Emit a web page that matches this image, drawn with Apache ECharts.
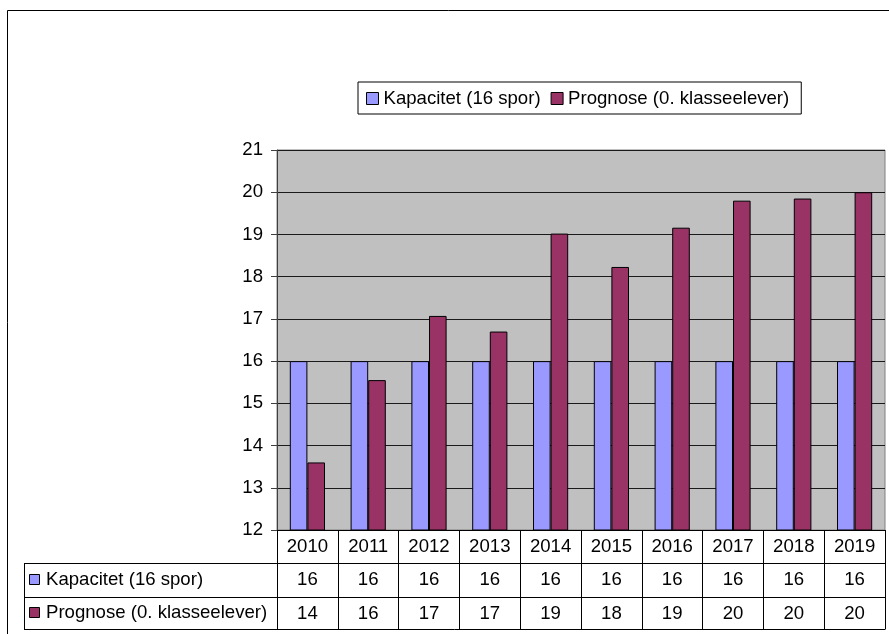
<!DOCTYPE html>
<html>
<head>
<meta charset="utf-8">
<script src="https://cdn.jsdelivr.net/npm/echarts@6/dist/echarts.min.js"></script>
<style>
html,body{margin:0;padding:0;background:#fff;}
#chart{width:889px;height:634px;}
</style>
</head>
<body>
<div id="chart"></div>
<script>
// ---- data ----
var years = ['2010','2011','2012','2013','2014','2015','2016','2017','2018','2019'];
var seriesNames = ['Kapacitet (16 spor)', 'Prognose (0. klasseelever)'];
var kapacitet = [16, 16, 16, 16, 16, 16, 16, 16, 16, 16];
var prognose = [13.6, 15.55, 17.07, 16.7, 19.02, 18.23, 19.16, 19.8, 19.85, 20.0];
var kapacitetTable = ['16','16','16','16','16','16','16','16','16','16'];
var prognoseTable = ['14','16','17','17','19','18','19','20','20','20'];
var yTicks = {min: 12, max: 21, interval: 1};

// ---- layout ----
var FONT = 'Liberation Sans, Arial, sans-serif';
var FS = 18.6;
var gridLeft = 277, gridRight = 885, gridTop = 150, gridBottom = 530;
var rowH1 = 33, rowH2 = 34, rowH3 = 32;
var tableLeft = 24;
var colorK = '#9999FF', colorP = '#993366';

var chart = echarts.init(document.getElementById('chart'), null, {renderer: 'canvas'});

function tableAxis(offset, tickLen, labels) {
  return {
    type: 'category',
    data: years,
    position: 'bottom',
    offset: offset,
    axisLine: {show: true, lineStyle: {color: '#000', width: 1}},
    axisTick: {show: true, length: tickLen, interval: 0, alignWithLabel: false, lineStyle: {color: '#000', width: 1}},
    axisLabel: {
      show: true, interval: 0, margin: 7, color: '#000', fontSize: FS, fontFamily: FONT,
      formatter: labels ? function (v, i) { return labels[i]; } : null
    },
    splitLine: {show: false}
  };
}

var y1 = gridBottom + rowH1, y2 = y1 + rowH2, y3 = y2 + rowH3;

var option = {
  animation: false,
  backgroundColor: '#fff',
  grid: {
    left: gridLeft, right: 889 - gridRight, top: gridTop, bottom: 634 - gridBottom,
    show: true, backgroundColor: '#C0C0C0', borderColor: '#808080', borderWidth: 1
  },
  legend: {
    data: seriesNames,
    left: 358, top: 82,
    padding: [7, 12, 6, 8],
    itemGap: 10,
    itemWidth: 12, itemHeight: 12,
    icon: 'rect',
    itemStyle: {borderColor: '#000', borderWidth: 1},
    borderColor: '#000', borderWidth: 1,
    backgroundColor: '#fff',
    textStyle: {color: '#000', fontSize: FS, fontFamily: FONT}
  },
  xAxis: [
    tableAxis(0, rowH1, null),
    tableAxis(rowH1, rowH2, kapacitetTable),
    tableAxis(rowH1 + rowH2, rowH3, prognoseTable)
  ],
  yAxis: {
    type: 'value',
    min: yTicks.min, max: yTicks.max, interval: yTicks.interval,
    axisLine: {show: true, lineStyle: {color: '#404040', width: 1}},
    axisTick: {show: true, length: 6, lineStyle: {color: '#404040'}},
    axisLabel: {color: '#000', fontSize: FS, fontFamily: FONT, margin: 14},
    splitLine: {show: true, lineStyle: {color: '#1a1a1a', width: 1}}
  },
  series: [
    {
      name: seriesNames[0], type: 'bar', xAxisIndex: 0, data: kapacitet,
      barWidth: 17.6, barGap: '0%',
      itemStyle: {color: colorK, borderColor: '#000', borderWidth: 1}
    },
    {
      name: seriesNames[1], type: 'bar', xAxisIndex: 0, data: prognose,
      barWidth: 17.6, barGap: '0%',
      itemStyle: {color: colorP, borderColor: '#000', borderWidth: 1}
    }
  ],
  graphic: [
    // outer frame
    {type: 'rect', shape: {x: 7.5, y: 10.5, width: 1000, height: 1000}, style: {fill: 'none', stroke: '#000', lineWidth: 1}, silent: true, z: -10},
    // left column of data table
    {type: 'line', shape: {x1: tableLeft + 0.5, y1: y1, x2: tableLeft + 0.5, y2: y3}, style: {stroke: '#000', lineWidth: 1}},
    {type: 'line', shape: {x1: tableLeft, y1: y1 + 0.5, x2: gridLeft, y2: y1 + 0.5}, style: {stroke: '#000', lineWidth: 1}},
    {type: 'line', shape: {x1: tableLeft, y1: y2 + 0.5, x2: gridLeft, y2: y2 + 0.5}, style: {stroke: '#000', lineWidth: 1}},
    {type: 'line', shape: {x1: tableLeft, y1: y3 + 0.5, x2: gridRight + 0.5, y2: y3 + 0.5}, style: {stroke: '#000', lineWidth: 1}},
    // legend keys in table
    {type: 'rect', shape: {x: 29.5, y: y1 + 11.5, width: 10, height: 10}, style: {fill: colorK, stroke: '#000', lineWidth: 1}},
    {type: 'text', x: 46, y: y1 + rowH2 / 2, style: {text: seriesNames[0], fill: '#000', font: FS + 'px ' + FONT, textVerticalAlign: 'middle', verticalAlign: 'middle'}},
    {type: 'rect', shape: {x: 29.5, y: y2 + 10.5, width: 10, height: 10}, style: {fill: colorP, stroke: '#000', lineWidth: 1}},
    {type: 'text', x: 46, y: y2 + rowH3 / 2, style: {text: seriesNames[1], fill: '#000', font: FS + 'px ' + FONT, textVerticalAlign: 'middle', verticalAlign: 'middle'}}
  ]
};
chart.setOption(option);
</script>
</body>
</html>
